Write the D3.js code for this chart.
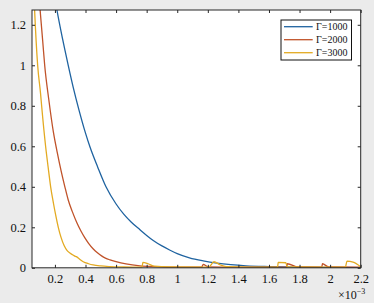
<!DOCTYPE html>
<html>
<head>
<meta charset="utf-8">
<script src="https://cdn.jsdelivr.net/npm/d3@7"></script>
<style>
  body { margin: 0; background: #ebebeb; }
  svg { display: block; }
</style>
</head>
<body>
<div id="chart"></div>
<script>
// x values are in units of 1e-3
let seriesNames = ["Γ=1000", "Γ=2000", "Γ=3000"]
let seriesColors = ["#1f63a0", "#c0532a", "#e3aa22"]

let blueX = [0.20, 0.213, 0.25, 0.287, 0.32, 0.357, 0.40, 0.43, 0.48, 0.534, 0.60, 0.65, 0.70, 0.756, 0.80, 0.843, 0.90, 0.95, 1.00, 1.08, 1.17, 1.26, 1.35, 1.45, 1.60, 1.80, 2.00, 2.20]
let blueY = [1.33, 1.273, 1.13, 1.0, 0.89, 0.78, 0.665, 0.595, 0.497, 0.40, 0.315, 0.265, 0.225, 0.188, 0.160, 0.135, 0.108, 0.088, 0.070, 0.049, 0.034, 0.023, 0.0155, 0.010, 0.006, 0.003, 0.002, 0.001]

let redX = [0.10, 0.12, 0.133, 0.16, 0.19, 0.215, 0.24, 0.265, 0.287, 0.315, 0.342, 0.37, 0.396, 0.42, 0.451, 0.48, 0.505, 0.53, 0.56, 0.60, 0.665, 0.756, 0.85, 1.00, 1.16, 1.17, 1.20, 1.40, 1.715, 1.72, 1.79, 1.945, 1.95, 1.99, 2.20]
let redY = [1.30, 1.12, 1.0, 0.83, 0.67, 0.57, 0.48, 0.40, 0.335, 0.275, 0.225, 0.182, 0.148, 0.121, 0.093, 0.073, 0.059, 0.048, 0.039, 0.030, 0.019, 0.010, 0.006, 0.003, 0.003, 0.017, 0.005, 0.003, 0.003, 0.02, 0.004, 0.003, 0.02, 0.004, 0.003]

let yellowX = [0.06, 0.067, 0.087, 0.106, 0.113, 0.139, 0.155, 0.172, 0.19, 0.205, 0.222, 0.24, 0.26, 0.28, 0.30, 0.318, 0.33, 0.34, 0.36, 0.385, 0.42, 0.45, 0.50, 0.56, 0.65, 0.77, 0.775, 0.81, 0.85, 0.95, 1.20, 1.21, 1.24, 1.28, 1.32, 1.60, 1.657, 1.66, 1.71, 1.72, 2.10, 2.11, 2.15, 2.20]
let yellowY = [1.40, 1.273, 1.0, 0.86, 0.80, 0.60, 0.50, 0.40, 0.32, 0.26, 0.20, 0.15, 0.11, 0.085, 0.072, 0.063, 0.058, 0.055, 0.043, 0.030, 0.020, 0.014, 0.009, 0.006, 0.004, 0.003, 0.027, 0.02, 0.008, 0.004, 0.003, 0.005, 0.03, 0.015, 0.006, 0.003, 0.003, 0.027, 0.025, 0.005, 0.003, 0.033, 0.028, 0.005]

let xTicks = [0.2, 0.4, 0.6, 0.8, 1, 1.2, 1.4, 1.6, 1.8, 2, 2.2]
let yTicks = [0, 0.2, 0.4, 0.6, 0.8, 1, 1.2]

let serif = "'Liberation Serif', 'Times New Roman', serif"

let margin = {top: 10, left: 32, right: 13.3, bottom: 35.2},
    totalW = 374,
    totalH = 303,
    width = totalW - margin.left - margin.right,
    height = totalH - margin.top - margin.bottom

let svg = d3.select("#chart")
  .append("svg")
  .attr("width", totalW)
  .attr("height", totalH)
  .style("background-color", "#ebebeb")
  .style("font-family", serif)

let g = svg.append("g").attr("transform", "translate(" + margin.left + "," + margin.top + ")")

// plot area
g.append("rect")
  .attr("width", width)
  .attr("height", height)
  .attr("fill", "#ffffff")

let x = d3.scaleLinear().domain([0.05, 2.2]).range([0, width])
let y = d3.scaleLinear().domain([0, 1.273]).range([height, 0])

g.append("clipPath").attr("id", "clip")
  .append("rect").attr("width", width).attr("height", height)

let series = [
  {name: seriesNames[0], color: seriesColors[0], xs: blueX, ys: blueY},
  {name: seriesNames[1], color: seriesColors[1], xs: redX, ys: redY},
  {name: seriesNames[2], color: seriesColors[2], xs: yellowX, ys: yellowY}
]

let line = d3.line()
  .curve(d3.curveMonotoneX)
  .x(function(d) { return x(d[0]) })
  .y(function(d) { return y(d[1]) })

g.append("g").attr("clip-path", "url(#clip)")
  .selectAll("path")
  .data(series)
  .enter().append("path")
  .attr("d", function(s) { return line(s.xs.map(function(v, i) { return [v, s.ys[i]] })) })
  .attr("fill", "none")
  .attr("stroke", function(s) { return s.color })
  .attr("stroke-width", 1.3)

// axes, ticks pointing inward like matlab
function styleAxis(sel) {
  sel.attr("font-family", serif)
  sel.select(".domain").remove()
  sel.selectAll(".tick line").attr("stroke", "#262626")
  sel.selectAll(".tick text").attr("fill", "#111").style("font-size", "12.5px")
}

g.append("g")
  .attr("transform", "translate(0," + height + ")")
  .call(d3.axisBottom(x).tickValues(xTicks).tickSizeInner(-3).tickSizeOuter(0).tickPadding(6.5)
    .tickFormat(function(d) { return d3.format("~g")(d) }))
  .call(styleAxis)

g.append("g")
  .call(d3.axisTop(x).tickValues(xTicks).tickSizeInner(-3).tickSizeOuter(0).tickFormat(""))
  .call(styleAxis)

g.append("g")
  .call(d3.axisLeft(y).tickValues(yTicks).tickSizeInner(-3).tickSizeOuter(0).tickPadding(6)
    .tickFormat(function(d) { return d3.format("~g")(d) }))
  .call(styleAxis)

g.append("g")
  .attr("transform", "translate(" + width + ",0)")
  .call(d3.axisRight(y).tickValues(yTicks).tickSizeInner(-3).tickSizeOuter(0).tickFormat(""))
  .call(styleAxis)

// box
g.append("rect")
  .attr("width", width)
  .attr("height", height)
  .attr("fill", "none")
  .attr("stroke", "#262626")
  .attr("stroke-width", 1)

// exponent label
let expo = svg.append("text")
  .attr("x", 338)
  .attr("y", 298.5)
  .attr("fill", "#111")
  .attr("font-family", serif)
  .style("font-size", "12px")
expo.append("tspan").text("×10")
expo.append("tspan").attr("dy", -5).style("font-size", "8px").text("−3")

// legend
let legend = svg.append("g").attr("transform", "translate(281,20)")
legend.append("rect")
  .attr("width", 70.5)
  .attr("height", 40)
  .attr("fill", "#ffffff")
  .attr("stroke", "#111")
  .attr("stroke-width", 1)

let item = legend.selectAll(".item")
  .data(series)
  .enter().append("g")
  .attr("class", "item")
  .attr("transform", function(d, i) { return "translate(0," + (6.7 + i * 13) + ")" })

item.append("line")
  .attr("x1", 3)
  .attr("x2", 31.7)
  .attr("stroke", function(d) { return d.color })
  .attr("stroke-width", 1.3)

item.append("text")
  .attr("x", 35)
  .attr("dy", "0.35em")
  .attr("fill", "#111")
  .attr("font-family", serif)
  .style("font-size", "10px")
  .text(function(d) { return d.name })
</script>
</body>
</html>
